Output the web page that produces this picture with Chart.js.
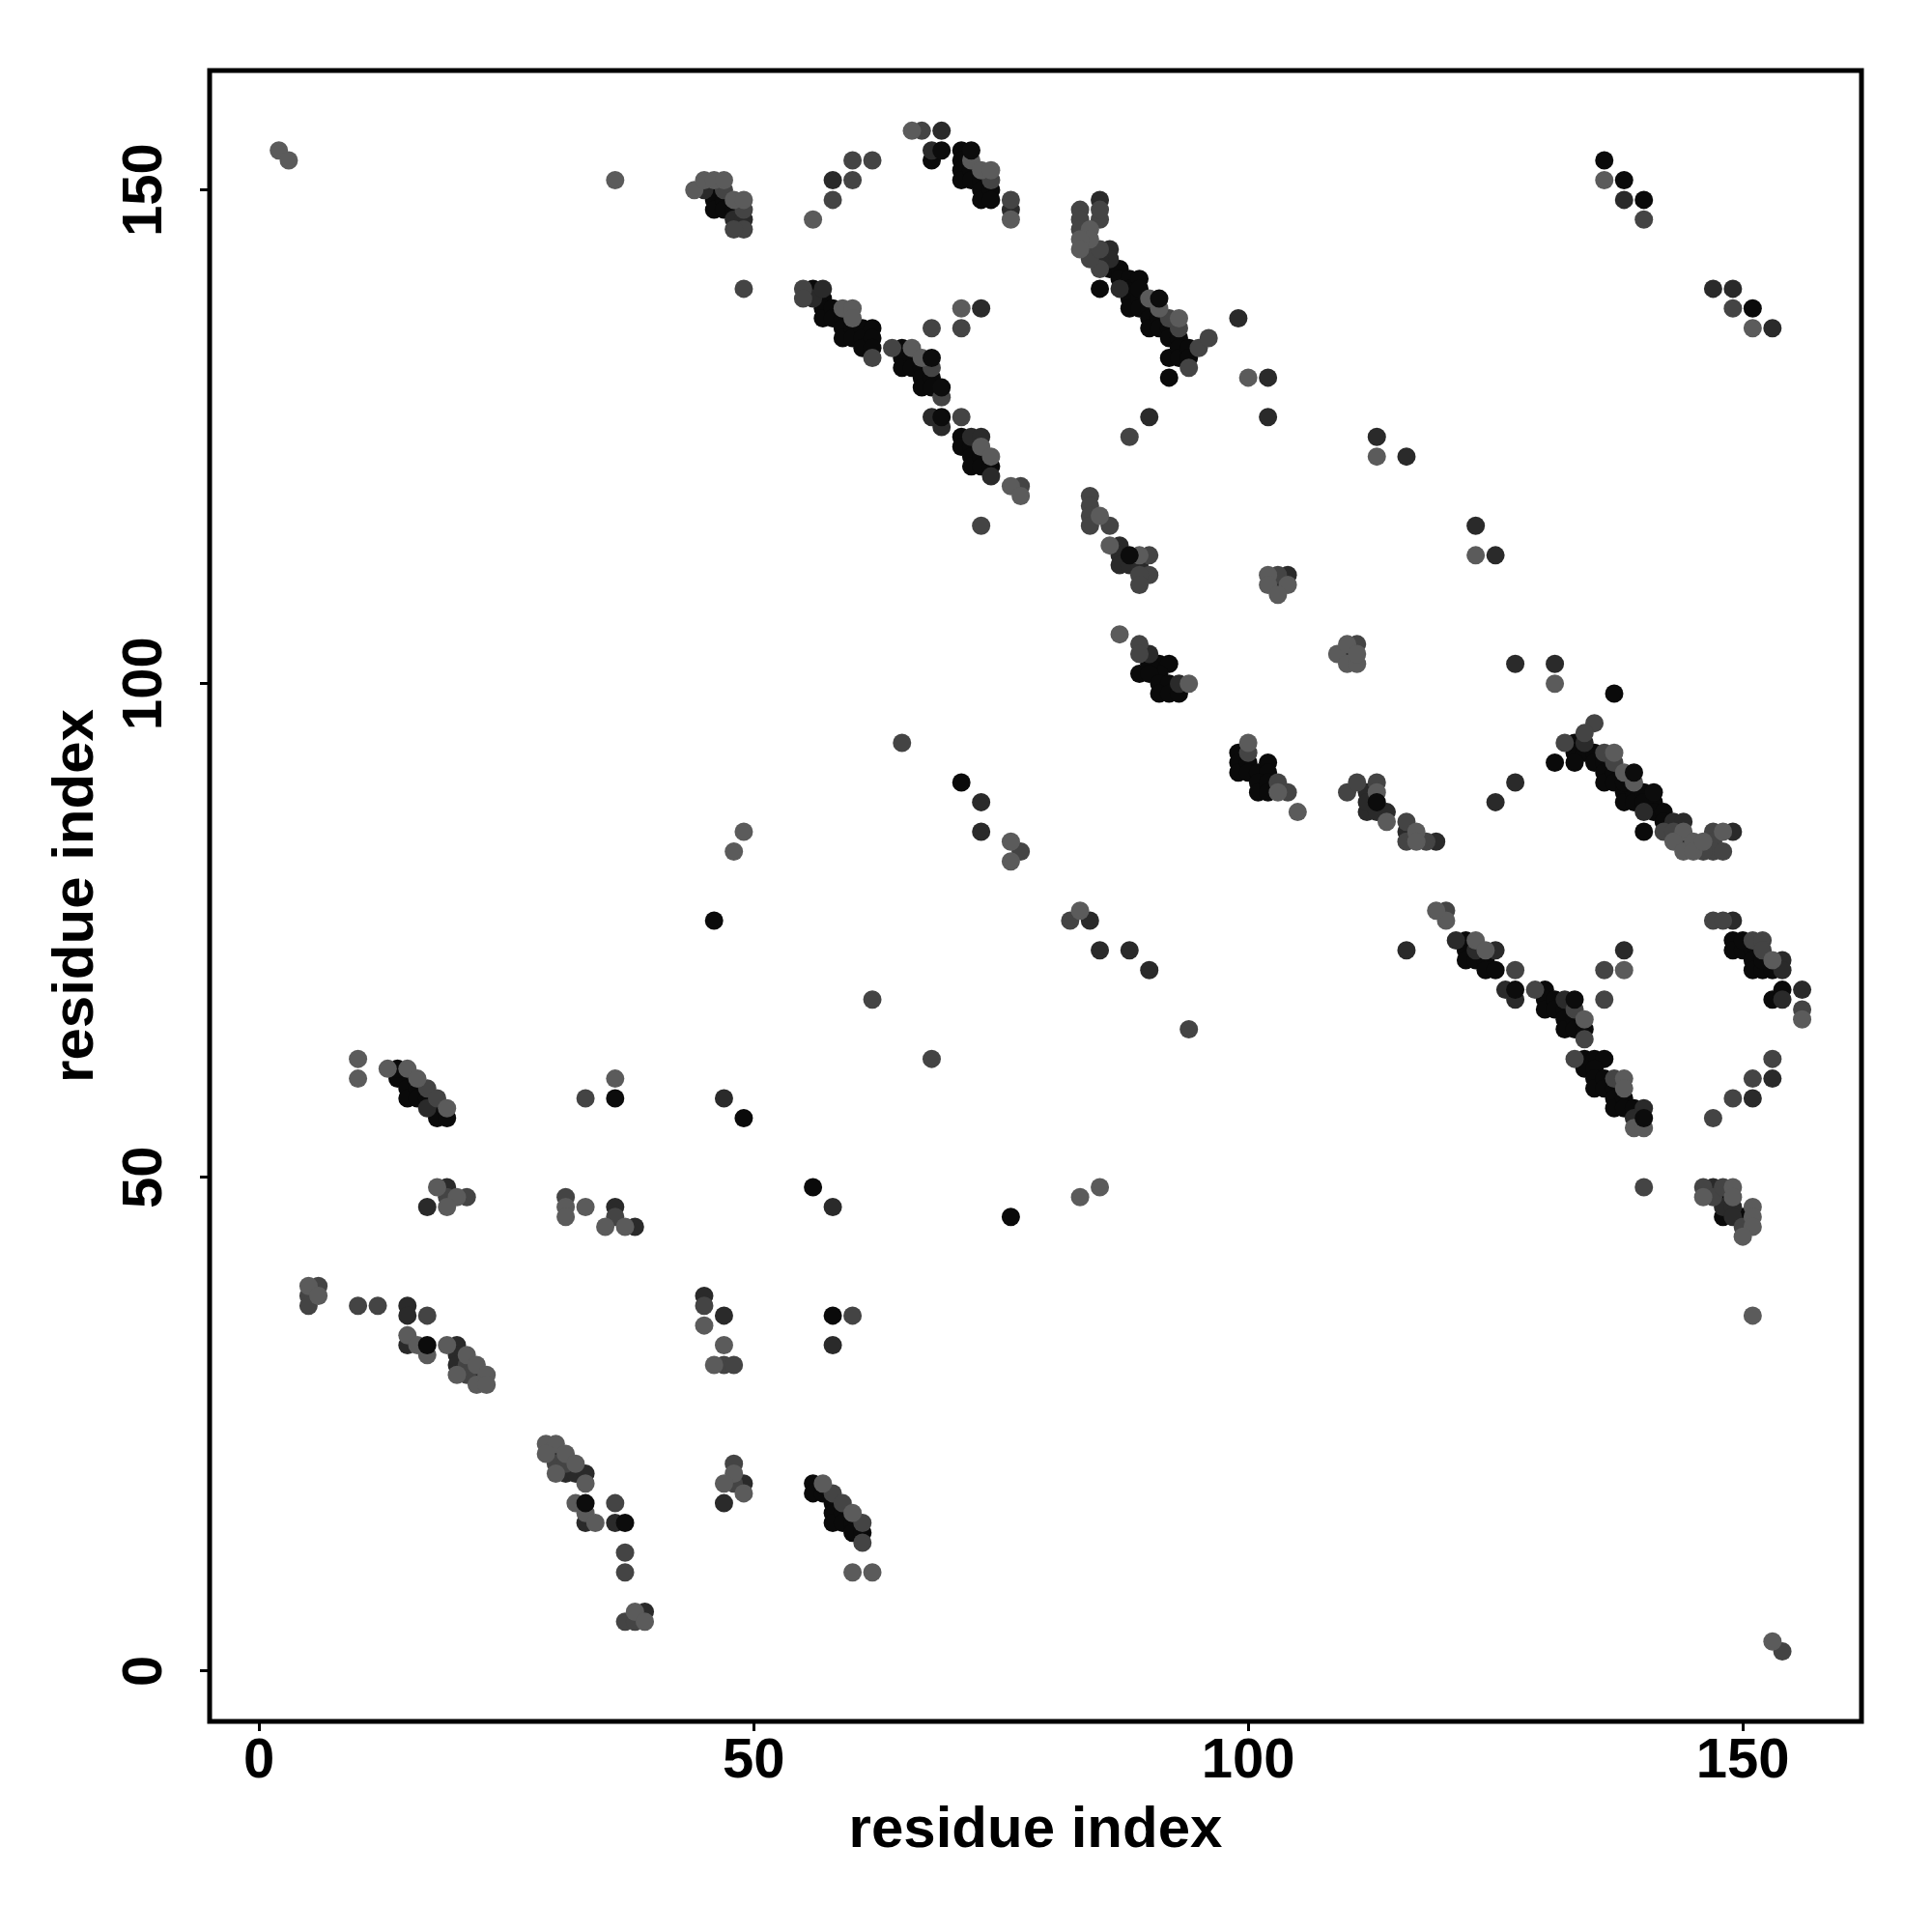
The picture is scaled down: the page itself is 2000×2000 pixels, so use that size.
<!DOCTYPE html>
<html>
<head>
<meta charset="utf-8">
<title>residue contact map</title>
<script src="https://cdn.jsdelivr.net/npm/chart.js@4"></script>
<style>
    html, body { margin: 0; padding: 0; background: #fff; }
    #wrap { width: 2000px; height: 2000px; }
</style>
</head>
<body>
<div id="wrap"><canvas id="contact-map" width="2000" height="2000"></canvas></div>
<script>
// Contacts as [residue x, residue y], grouped by grey level
const blackContacts = [
    [46,150],[46,149],[46,148],[47,149],[47,148],[48,148],
    [68,153],[71,154],[71,153],[71,152],[71,151],[72,152],[72,151],[73,151],[73,150],[73,149],[74,150],[74,149],
    [56,140],[57,139],[57,138],[57,137],[58,138],[58,137],[59,137],[59,136],[59,135],[60,136],[60,135],[61,136],[61,135],[61,134],[62,136],[62,135],[62,134],
    [65,134],[65,133],[65,132],[66,133],[66,132],[67,132],[67,131],[67,130],[68,131],[68,130],
    [71,125],[71,124],[72,124],[72,123],[72,122],[73,123],[73,122],[74,122],
    [85,140],[86,142],[87,142],[87,141],[88,141],[88,140],[89,141],[88,139],[88,138],[89,139],[89,138],[89,140],[90,138],[90,137],[90,136],[91,137],[91,136],[92,136],[92,135],[93,135],[92,133],[93,134],[93,133],[94,134],[94,133],[92,131],
    [91,102],[92,102],[89,101],[91,101],[90,102],[90,101],[91,100],[92,100],[91,99],[92,99],[93,99],
    [99,93],[99,92],[99,91],[100,92],[100,91],[101,91],[102,92],[102,91],[101,90],[101,89],[102,90],[102,89],
    [133,94],[133,93],[134,93],[131,92],[133,92],[135,93],[135,92],[136,92],[136,91],[136,90],[137,91],[137,90],[138,89],[138,88],[139,89],[139,88],[138,90],[140,89],[141,88],[140,88],[141,87],[142,87],[142,86],[140,85],
    [122,74],[122,73],[122,72],[123,72],[124,72],[124,71],[125,71],
    [130,69],[130,68],[130,67],[131,68],[131,67],[132,67],[132,66],[132,65],[133,66],[133,65],[134,65],
    [134,62],[135,62],[136,62],[134,61],[135,61],[135,60],[135,59],[136,60],[136,59],[137,59],[137,58],[137,57],[138,58],[138,57],[139,57],
    [148,48],[148,46],[150,46],
    [149,74],[149,73],[150,73],[151,73],[150,74],[151,72],[151,71],[152,71],[153,71],[152,72],[153,68],[154,69],
    [15,60],[14,60],[14,61],[15,59],[15,58],[16,59],[16,58],[17,58],[18,57],[18,56],[19,56],
    [56,19],[56,18],[57,18],[58,17],[58,16],[58,15],[59,16],[59,15],[60,15],[60,14],[61,14],
    [71,90],[46,76],[76,46],[58,36],[49,56],[56,49],[136,153],[138,151],[140,149],[151,138],[137,99]
];

const darkContacts = [
    [45,150],[48,147],[49,147],[58,151],[69,156],[68,154],[76,148],
    [56,139],[57,140],[73,138],[68,127],[69,126],[72,125],[73,125],[74,121],
    [87,140],[85,149],[86,144],[86,143],[85,143],[99,137],
    [87,114],[87,113],[87,112],[88,112],[89,112],[104,111],[103,110],[90,103],[93,100],[110,103],
    [112,89],[112,87],[112,88],[113,87],[114,87],[116,85],[119,84],
    [134,94],[143,86],[144,86],[140,87],[144,84],[149,85],
    [121,74],[123,73],[125,73],[127,68],[126,69],[132,68],[139,56],[140,57],
    [147,49],[148,47],[149,47],[149,46],[149,76],[154,72],[154,71],[154,68],[156,69],[151,58],[153,60],[138,73],
    [125,88],[127,90],[73,88],[73,85],[85,73],[88,73],[90,71],[84,76],[116,73],
    [113,125],[116,123],[123,116],[125,113],[127,102],[131,102],[147,140],[149,140],[153,136],[138,149],
    [17,57],[19,49],[17,47],[36,47],[38,45],[47,58],[58,47],
    [15,37],[15,36],[15,33],[20,33],[20,32],[20,31],[22,30],[45,38],[47,36],[58,33],
    [30,22],[31,20],[32,20],[33,20],[33,15],[36,15],[39,6],[49,19],[47,17],[102,131],[102,127],[90,127]
];

const midContacts = [
    [47,150],[49,148],[49,146],[48,146],[60,151],[60,153],[62,153],[58,149],[67,156],[85,147],[76,149],[49,140],[74,151],
    [55,140],[55,139],[62,133],[64,134],[68,132],[69,129],[68,136],[71,136],[71,127],[77,120],[73,116],
    [83,148],[83,147],[83,146],[85,142],[84,144],[84,143],[85,148],[85,144],[92,137],[93,136],[94,132],[95,134],[96,135],
    [84,119],[84,118],[84,117],[84,116],[86,116],[90,113],[90,111],[89,111],[89,110],[103,111],[89,104],[89,103],[111,104],
    [100,93],[103,90],[104,89],[110,89],[111,90],[113,90],[116,86],[116,84],[118,84],
    [135,96],[134,95],[132,94],[136,93],[137,92],[142,85],[143,85],[147,85],[147,84],[147,83],[148,83],[146,83],
    [127,71],[129,69],[133,67],[134,64],[136,71],[136,68],[133,62],[137,60],[120,77],
    [146,49],[147,48],[148,49],[150,45],[140,49],[147,56],[149,58],[151,60],[153,62],[147,76],[148,76],[151,74],[152,74],[152,73],[156,67],[154,2],
    [65,94],[77,83],[82,76],[62,68],[68,62],[94,65],[140,147],[149,138],
    [17,59],[18,58],[19,48],[21,48],[31,48],[33,58],[36,46],
    [6,39],[5,38],[5,37],[10,37],[12,37],[17,36],[21,31],[21,30],
    [30,21],[31,21],[36,17],[37,12],[37,10],[37,5],[38,5],[48,21],[48,19],
    [58,18],[59,17],[61,15],[61,13],[45,37],[47,31],[48,31],[60,36],[88,125]
];

const lightContacts = [
    [44,150],[45,151],[46,151],[47,151],[48,149],[49,149],[56,147],[66,156],[72,153],[73,152],[74,152],[76,147],
    [59,138],[60,138],[60,137],[66,134],[67,133],[71,138],[73,124],[74,123],[76,120],[77,119],
    [84,146],[84,145],[83,145],[83,144],[90,139],[91,138],[93,137],[100,131],
    [85,117],[86,114],[89,113],[102,111],[102,110],[104,110],[103,109],[87,105],[94,100],
    [109,103],[110,104],[110,102],[111,102],[111,103],[100,94],[103,89],[105,87],[113,89],[114,86],[117,85],[117,84],
    [137,93],[138,91],[139,90],[144,85],[143,84],[144,83],[145,84],[145,83],[146,84],[148,85],
    [120,76],[123,74],[124,73],[134,66],[138,71],[138,60],[138,59],[139,55],[140,55],[119,77],
    [146,48],[149,49],[149,48],[151,47],[151,46],[151,45],[150,44],[151,36],[153,72],[156,66],[153,3],
    [113,123],[123,113],[131,100],[136,151],[151,136],[2,154],[3,153],[36,151],
    [49,85],[48,83],[76,84],[76,82],[83,77],[83,48],[85,49],
    [10,62],[10,60],[13,61],[15,61],[16,60],[19,57],[36,60],
    [18,49],[20,48],[19,47],[31,47],[31,46],[33,47],[35,45],[37,45],
    [5,39],[6,38],[15,34],[16,33],[17,32],[19,33],[21,32],[22,31],[20,30],[23,30],[22,29],[23,29],
    [29,23],[30,23],[29,22],[31,22],[32,21],[30,20],[33,19],[32,17],[33,16],[34,15],[38,6],[39,5],
    [48,20],[47,19],[49,18],[57,19],[60,16],[60,10],[62,10],[45,35],[46,31],[47,33]
];

// Near-black dots that sit on top of the lighter ones
const topContacts = [
    [69,154],[72,154],[68,133],[91,139],[69,130],[69,127],[139,91],[141,89],[133,68],[127,69],
    [88,113],[36,58],[17,33],[33,17],[113,88],[37,15],[140,56]
];

const tickValues = [0, 50, 100, 150];
const axisLabel = 'residue index';
const tickFont = { family: '"Liberation Sans", Arial, sans-serif', weight: 'bold', size: 58 };
const titleFont = { family: '"Liberation Sans", Arial, sans-serif', weight: 'bold', size: 60 };

function toPoints(pairs) {
    return pairs.map(p => ({ x: p[0], y: p[1] }));
}

function dotSet(pairs, color) {
    return {
        data: toPoints(pairs),
        backgroundColor: color,
        borderWidth: 0,
        pointRadius: 9.5,
        pointHoverRadius: 9.5
    };
}

// Black box around the plot area
const frameBox = {
    id: 'frameBox',
    afterDraw(chart) {
        const { ctx, chartArea } = chart;
        ctx.save();
        ctx.strokeStyle = '#000';
        ctx.lineWidth = 5;
        ctx.strokeRect(chartArea.left, chartArea.top, chartArea.right - chartArea.left, chartArea.bottom - chartArea.top);
        ctx.restore();
    }
};

function axisOptions(min, max, tickPad, titlePad) {
    return {
        type: 'linear',
        min: min,
        max: max,
        afterBuildTicks(scale) {
            scale.ticks = tickValues.map(v => ({ value: v }));
        },
        border: { display: false },
        grid: {
            drawOnChartArea: false,
            drawTicks: true,
            tickLength: 10,
            tickWidth: 3,
            tickColor: '#000'
        },
        ticks: {
            color: '#000',
            font: tickFont,
            padding: tickPad,
            autoSkip: false
        },
        title: {
            display: true,
            text: axisLabel,
            color: '#000',
            font: titleFont,
            padding: titlePad
        }
    };
}

const xAxis = axisOptions(-5, 162, -3, { top: 0, bottom: 69 });
xAxis.ticks.maxRotation = 0;
xAxis.afterFit = scale => { scale.height = 218; };

const yAxis = axisOptions(-5.1, 162.1, 8, { top: 43, bottom: 0 });
yAxis.ticks.minRotation = 90;
yAxis.ticks.maxRotation = 90;
yAxis.ticks.crossAlign = 'center';
yAxis.afterFit = scale => { scale.width = 217; };

new Chart(document.getElementById('contact-map').getContext('2d'), {
    type: 'scatter',
    data: {
        // first dataset ends up on top
        datasets: [
            dotSet(topContacts, '#0c0c0c'),
            dotSet(lightContacts, '#5b5b5b'),
            dotSet(midContacts, '#444444'),
            dotSet(darkContacts, '#2a2a2a'),
            dotSet(blackContacts, '#0a0a0a')
        ]
    },
    plugins: [frameBox],
    options: {
        responsive: false,
        animation: false,
        layout: { padding: { left: 0, top: 73, right: 73, bottom: 0 } },
        plugins: { legend: { display: false }, tooltip: { enabled: false } },
        scales: { x: xAxis, y: yAxis }
    }
});
</script>
</body>
</html>
